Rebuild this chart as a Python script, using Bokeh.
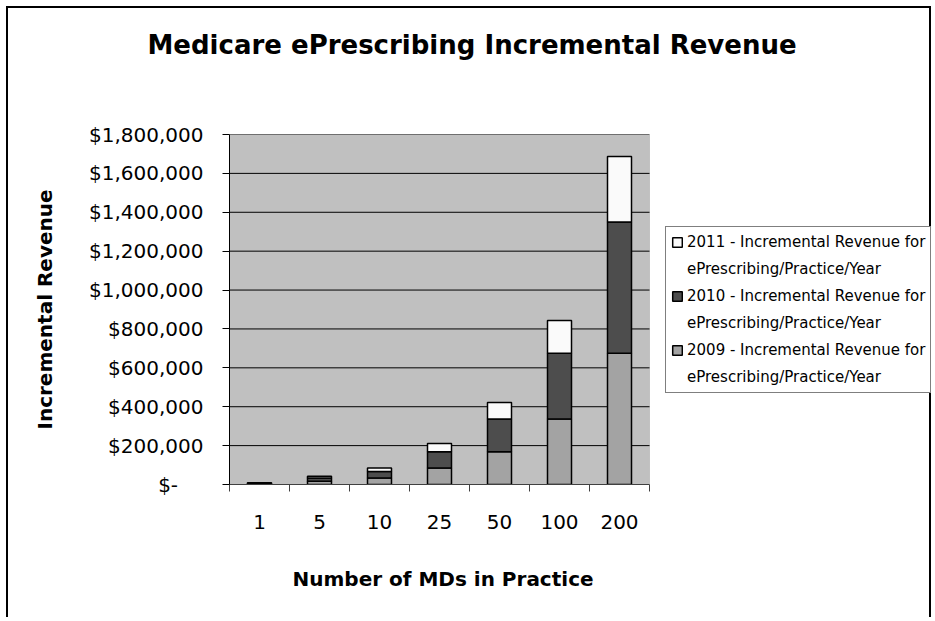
from bokeh.plotting import figure
from bokeh.models import (Range1d, FixedTicker, ColumnDataSource, Legend, LegendItem,
                          BoxAnnotation, Title)
from bokeh.embed import file_html
from bokeh.resources import INLINE

# ---- data ----
mds = ["1", "5", "10", "25", "50", "100", "200"]
rev_2009 = [3375, 16875, 33750, 84375, 168750, 337500, 675000]
rev_2010 = [3375, 16875, 33750, 84375, 168750, 337500, 675000]
rev_2011 = [1687.5, 8437.5, 16875, 42187.5, 84375, 168750, 337500]
y_ticks = [0, 200000, 400000, 600000, 800000, 1000000, 1200000, 1400000, 1600000, 1800000]
y_labels = ["$-", "$200,000", "$400,000", "$600,000", "$800,000", "$1,000,000",
            "$1,200,000", "$1,400,000", "$1,600,000", "$1,800,000"]
series_line1 = ["2009 - Incremental Revenue for",
                "2010 - Incremental Revenue for",
                "2011 - Incremental Revenue for"]
series_line2 = ["ePrescribing/Practice/Year"] * 3
colors = ["#A3A3A3", "#4D4D4D", "#FAFAFA"]

FONT = "DejaVu Sans"

# layout constants (pixels)
CANVAS_W, CANVAS_H = 925, 611
LEFT, TOP, BOTTOM = 221, 126, 135
PLOT_AREA_W = 420                        # width of the grey plot area
FRAME_W = CANVAS_W - LEFT                # frame extends under the legend
n = len(mds)
x_end = n * FRAME_W / PLOT_AREA_W

xs = [i + 0.5 for i in range(n)]
src = ColumnDataSource(dict(x=xs, y2009=rev_2009, y2010=rev_2010, y2011=rev_2011))

p = figure(width=CANVAS_W, height=CANVAS_H,
           x_range=Range1d(0, x_end), y_range=Range1d(0, y_ticks[-1]),
           output_backend="svg", toolbar_location=None,
           min_border_left=LEFT, min_border_right=0,
           min_border_top=TOP, min_border_bottom=BOTTOM,
           background_fill_color="white", border_fill_color="white",
           outline_line_color=None,
           styles={"border-left": "2px solid black", "border-top": "2px solid black",
                   "border-right": "2px solid black",
                   "margin-left": "6px", "margin-top": "6px"})

# main title (outermost), spacer title next to the frame
p.title.text = "Medicare ePrescribing Incremental Revenue"
p.title.align = "left"
p.title.offset = -82
p.title.standoff = 10
p.title.text_font = FONT
p.title.text_font_size = "26px"
p.title.text_font_style = "bold"
p.title.text_color = "black"
p.add_layout(Title(text=" ", text_font_size="1px", standoff=67), "above")

# grey plot area
p.add_layout(BoxAnnotation(left=0, right=n, bottom=0, top=y_ticks[-1],
                           fill_color="#C0C0C0", fill_alpha=1,
                           line_color="#808080", line_width=1, level="underlay"))

# horizontal gridlines across the plot area only
grid_y = y_ticks[1:]
p.segment(x0=[0] * len(grid_y), x1=[n] * len(grid_y), y0=grid_y, y1=grid_y,
          line_color="black", line_width=1)
p.xgrid.visible = False
p.ygrid.visible = False

# bars
renderers = p.vbar_stack(["y2009", "y2010", "y2011"], x="x", width=0.4, source=src,
                         fill_color=colors, line_color="black", line_width=1.5)

# y axis
ya = p.yaxis[0]
ya.ticker = FixedTicker(ticks=y_ticks, minor_ticks=[])
ya.major_label_overrides = {t: (l if l != "$-" else "$-\u00a0\u00a0\u00a0\u00a0")
                            for t, l in zip(y_ticks, y_labels)}
ya.major_tick_out = 7
ya.major_tick_in = 0
ya.minor_tick_out = 0
ya.minor_tick_in = 0
ya.axis_line_color = "black"
ya.major_tick_line_color = "black"
ya.major_label_standoff = 19
ya.major_label_text_font = FONT
ya.major_label_text_font_size = "20px"
ya.major_label_text_color = "black"
ya.axis_label = "Incremental Revenue"
ya.axis_label_text_font = FONT
ya.axis_label_text_font_size = "20px"
ya.axis_label_text_font_style = "bold"
ya.axis_label_text_color = "black"
ya.axis_label_standoff = 29

# x axis
xa = p.xaxis[0]
xa.bounds = (0, n)
xa.ticker = FixedTicker(ticks=xs, minor_ticks=list(range(n + 1)))
xa.major_label_overrides = {x: m for x, m in zip(xs, mds)}
xa.major_tick_out = 0
xa.major_tick_in = 0
xa.minor_tick_out = 7
xa.minor_tick_in = 0
xa.minor_tick_line_color = "#404040"
xa.axis_line_color = "#404040"
xa.major_label_standoff = 23
xa.major_label_text_font = FONT
xa.major_label_text_font_size = "20px"
xa.major_label_text_color = "black"
xa.axis_label = " "
xa.axis_label_text_font_size = "1px"
xa.axis_label_standoff = 28

# x axis title, centred under the grey plot area
p.add_layout(Title(text="Number of MDs in Practice", align="left", offset=63, standoff=2,
                   text_font=FONT, text_font_size="20px", text_font_style="bold",
                   text_color="black"), "below")

# legend (2011 first), two lines per series
items = []
for i in (2, 1, 0):
    items.append(LegendItem(label=series_line1[i], renderers=[renderers[i]]))
    items.append(LegendItem(label=series_line2[i], renderers=[]))
legend = Legend(items=items, location=(436, 91))
legend.label_text_font = FONT
legend.label_text_font_size = "15px"
legend.label_text_color = "black"
legend.label_height = 20
legend.glyph_width = 12
legend.glyph_height = 12
legend.label_standoff = 4
legend.padding = 5
legend.spacing = 7
legend.margin = 0
legend.border_line_color = "black"
legend.border_line_width = 1
legend.background_fill_color = "white"
legend.background_fill_alpha = 1
p.add_layout(legend, "center")

open("out.html", "w").write(file_html(p, INLINE))
